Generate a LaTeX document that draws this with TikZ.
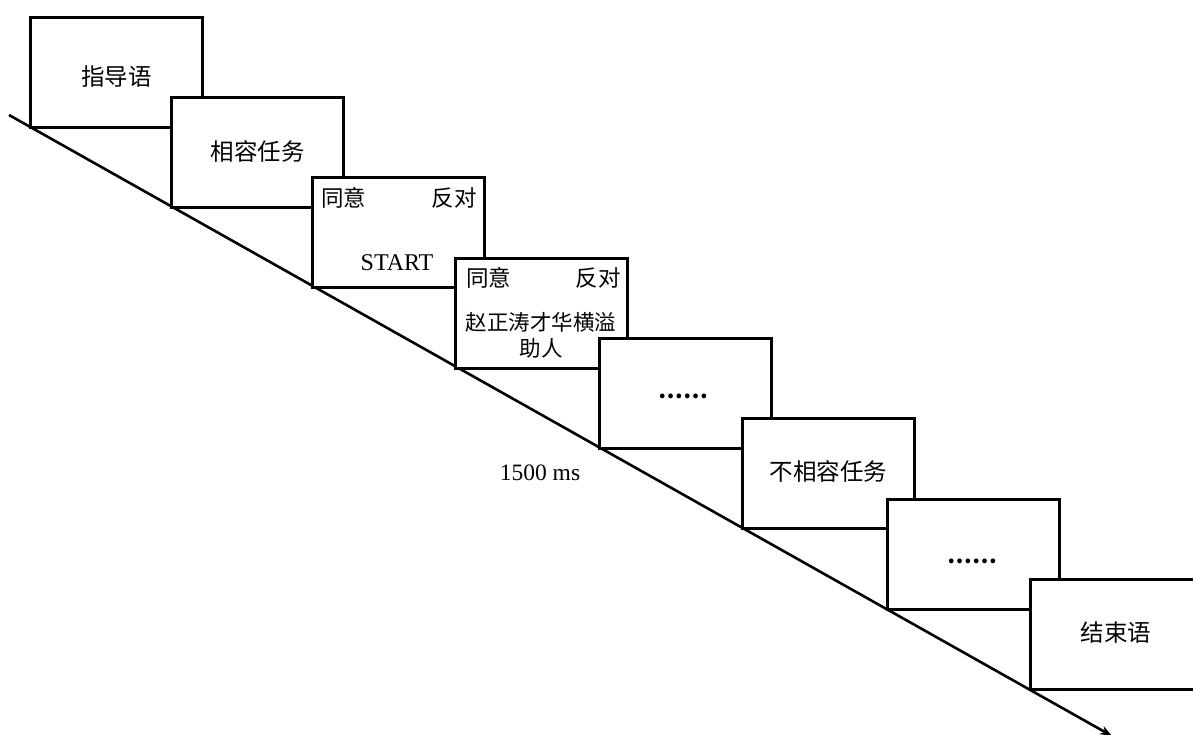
\documentclass[tikz,border=0pt]{standalone}
\usepackage{fontspec}
\setmainfont{Liberation Serif}
\newfontfamily\cjk{Noto Sans CJK SC}
\usetikzlibrary{calc,arrows.meta}
\tikzset{
  frame/.style={draw=black, line width=3pt, fill=white, minimum width=172pt, minimum height=110pt, anchor=north west, inner sep=0pt},
  zh/.style={font=\cjk\fontsize{23.5}{28}\selectfont, inner sep=0pt},
  zhs/.style={font=\cjk\fontsize{22.5}{26}\selectfont, inner sep=0pt},
  zht/.style={font=\cjk\fontsize{21.5}{26}\selectfont, inner sep=0pt},
  lat/.style={font=\fontsize{23.5}{28}\selectfont, inner sep=0pt},
  dots/.style={font=\cjk\bfseries\fontsize{22}{26}\selectfont, inner sep=0pt},
  axis/.style={line width=2.6pt, -{Stealth[length=12pt,width=9pt]}}
}
\begin{document}
\begin{tikzpicture}[x=1pt,y=-1pt]
\useasboundingbox (0,0) rectangle (1193,734);
\clip (0,0) rectangle (1193,734);
\coordinate (s) at (9,115);
\coordinate (e) at (1112,736);
\draw[axis] (s) -- (e);
\node[frame] (b1) at (29,16) {};
\node[frame] (b2) at (170,96) {};
\node[frame] (b3) at (311,176) {};
\node[frame] (b4) at (454,257) {};
\node[frame] (b5) at (598,337) {};
\node[frame] (b6) at (741,417) {};
\node[frame] (b7) at (886,498) {};
\node[frame] (b8) at (1029,578) {};
% texts
\node[zh] (t1) at ($(b1.center)+(0,4)$) {指导语};
\node[zh] (t2) at ($(b2.center)+(0,-1)$) {相容任务};
\node[zhs, anchor=west] (t3a) at ($(b3.north west)+(10,22)$) {同意};
\node[zhs, anchor=east] (t3b) at ($(b3.north east)+(-9,22)$) {反对};
\node[lat, font=\fontsize{24}{28}\selectfont] (t3c) at ($(b3.north west)+(86,87)$) {START};
\node[zhs, anchor=west] (t4a) at ($(b4.north west)+(12,21)$) {同意};
\node[zhs, anchor=east] (t4b) at ($(b4.north east)+(-8,21)$) {反对};
\node[zht] (t4c) at ($(b4.north west)+(87,65)$) {赵正涛才华横溢};
\node[zht] (t4d) at ($(b4.north west)+(87,91)$) {助人};
\node[dots] (t5) at ($(b5.north west)+(85,59)$) {……};
\node[zh] (t6) at ($(b6.center)+(0,-2)$) {不相容任务};
\node[dots] (t7) at ($(b7.north west)+(86,63)$) {……};
\node[zh] (t8) at ($(b8.north west)+(87,55)$) {结束语};
\node[lat] (ms) at (540,473) {1500 ms};
\end{tikzpicture}
\end{document}
